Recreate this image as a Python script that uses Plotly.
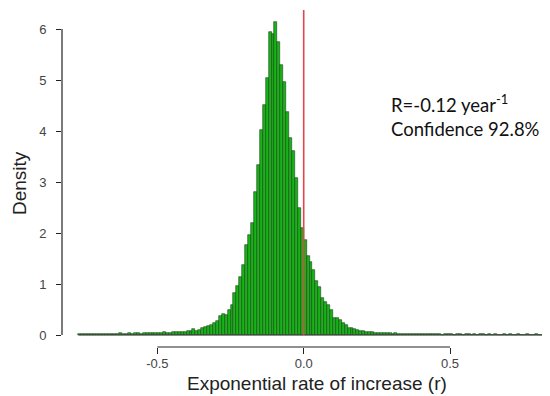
import plotly.graph_objects as go

# ---- data (density per 0.01-wide bin) ----
bin_width = 0.01
first_bin_start = -0.77

left_tail = [0.01, 0.01, 0.01, 0.02, 0.01, 0.01, 0.02, 0.01, 0.02, 0.02,
             0.01, 0.02, 0.02, 0.02, 0.03, 0.02, 0.02, 0.03, 0.02, 0.03,
             0.03, 0.02, 0.03, 0.04, 0.03, 0.03, 0.04, 0.03, 0.04, 0.05,
             0.04, 0.04, 0.05, 0.05, 0.05]                 # -0.77 .. -0.43
rise = [0.05, 0.06, 0.07, 0.07, 0.12, 0.08, 0.09, 0.14, 0.15, 0.18,
        0.20, 0.24, 0.28, 0.38, 0.41, 0.40, 0.49, 0.59, 0.82, 0.96,
        1.14, 1.37, 1.76, 1.96, 2.19]                      # -0.42 .. -0.18
peak = [2.81, 3.33, 4.02, 4.51, 5.03, 5.95, 5.91, 6.14, 5.75, 5.29,
        4.97, 4.38, 3.86, 3.60, 3.08, 2.49, 2.10]          # -0.17 .. -0.01
fall = [1.86, 1.55, 1.44, 1.27, 1.05, 0.95, 0.72, 0.65, 0.59, 0.49,
        0.33, 0.33, 0.30, 0.24, 0.20, 0.14, 0.13, 0.12, 0.10, 0.08,
        0.07]                                              # 0.00 .. 0.20
right_tail = [0.06, 0.05, 0.05, 0.04, 0.04, 0.03, 0.04, 0.03, 0.03, 0.02,
              0.03, 0.02, 0.02, 0.02, 0.01, 0.02, 0.02, 0.01, 0.01, 0.02,
              0.01, 0.01, 0.01, 0.02, 0.01, 0.01, 0.0, 0.01, 0.01, 0.01,
              0.0, 0.01, 0.01, 0.0, 0.01, 0.01, 0.0, 0.01, 0.0, 0.01,
              0.01, 0.0, 0.01, 0.0, 0.01, 0.0, 0.0, 0.01, 0.0, 0.01,
              0.0, 0.0, 0.01, 0.0, 0.0, 0.01, 0.0, 0.0, 0.01, 0.0,
              0.0, 0.01, 0.0, 0.01]                        # 0.21 .. 0.84

x_tick_vals = [-0.5, 0.0, 0.5]
x_tick_text = ["-0.5", "0.0", "0.5"]
y_tick_vals = [0, 1, 2, 3, 4, 5, 6]
y_tick_text = ["0", "1", "2", "3", "4", "5", "6"]

rate_estimate = "-0.12"
confidence = "92.8%"
x_title = "Exponential rate of increase (r)"
y_title = "Density"

density = left_tail + rise + peak + fall + right_tail
bin_centers = [round(first_bin_start + bin_width * (i + 0.5), 4) for i in range(len(density))]
hist_start = first_bin_start
hist_end = round(first_bin_start + bin_width * len(density), 4)

# ---- layout geometry (page has an 8px body margin) ----
OFF = 8
W, H = 550 - OFF, 396 - OFF
L, T = 62 - OFF, 10 - OFF
plot_bottom = 347 - OFF
R = 0
B = H - plot_bottom
px_per_x = 292.7
x0_px = 303.7 - OFF
px_per_y = 51.0
y0_px = 335.0 - OFF
x_range = [(L - x0_px) / px_per_x, (W - R - x0_px) / px_per_x]
y_lo = (y0_px - plot_bottom) / px_per_y
y_range = [y_lo, y_lo + (plot_bottom - T) / px_per_y]
pw = W - L - R
ph = plot_bottom - T


def px_to_paper(sx, sy):
    return (sx - OFF - L) / pw, (plot_bottom - (sy - OFF)) / ph


font_family = "Liberation Sans, Arial, sans-serif"

fig = go.Figure()
fig.add_trace(go.Bar(
    x=bin_centers, y=density, width=bin_width,
    marker=dict(color="#16b416", line=dict(color="#1f3f1f", width=0.6)),
    hoverinfo="x+y", showlegend=False,
))

shapes = [
    dict(type="line", xref="x", yref="y", x0=hist_start, x1=hist_end, y0=0, y1=0,
         line=dict(color="#333333", width=1.2), layer="above"),
    dict(type="line", xref="x", yref="y", x0=0, x1=0, y0=0, y1=y_range[1],
         line=dict(color="#e0474c", width=1.6), layer="above"),
    dict(type="line", xref="x", yref="paper", x0=x_tick_vals[0], x1=x_tick_vals[-1], y0=0, y1=0,
         line=dict(color="#222222", width=1.2)),
    dict(type="line", xref="paper", yref="y", x0=0, x1=0, y0=y_tick_vals[0], y1=y_tick_vals[-1],
         line=dict(color="#222222", width=1.2)),
]

xt_x, xt_y = px_to_paper(317, 384)
yt_x, yt_y = px_to_paper(19, 183)
st_x, st_y = px_to_paper(389, 115)

annotations = [
    dict(text=x_title, xref="paper", yref="paper", x=xt_x, y=xt_y,
         xanchor="center", yanchor="middle", showarrow=False,
         font=dict(family=font_family, size=19, color="#222222")),
    dict(text=y_title, xref="paper", yref="paper", textangle=-90, x=yt_x, y=yt_y,
         xanchor="center", yanchor="middle", showarrow=False,
         font=dict(family=font_family, size=19, color="#222222")),
    dict(text=f"R={rate_estimate} year<sup>-1</sup><br>Confidence {confidence}",
         xref="paper", yref="paper", x=st_x, y=st_y,
         xanchor="left", yanchor="middle", align="left", showarrow=False,
         font=dict(family="Lato, Open Sans, sans-serif", size=18.5, color="#111111")),
]

fig.update_layout(
    width=W, height=H,
    margin=dict(l=L, r=R, t=T, b=B, autoexpand=False),
    paper_bgcolor="white", plot_bgcolor="white",
    bargap=0,
    shapes=shapes, annotations=annotations,
    xaxis=dict(range=x_range, tickvals=x_tick_vals, ticktext=x_tick_text,
               ticks="outside", ticklen=6, tickwidth=1.2, tickcolor="#222222",
               showline=False, showgrid=False, zeroline=False,
               tickfont=dict(family=font_family, size=13, color="#444444"),
               ticklabelstandoff=-2),
    yaxis=dict(range=y_range, tickvals=y_tick_vals, ticktext=y_tick_text,
               ticks="outside", ticklen=5, tickwidth=1.2, tickcolor="#222222",
               showline=False, showgrid=False, zeroline=False,
               tickfont=dict(family=font_family, size=13, color="#444444"),
               ticklabelstandoff=7),
)

fig.write_html("out.html")
